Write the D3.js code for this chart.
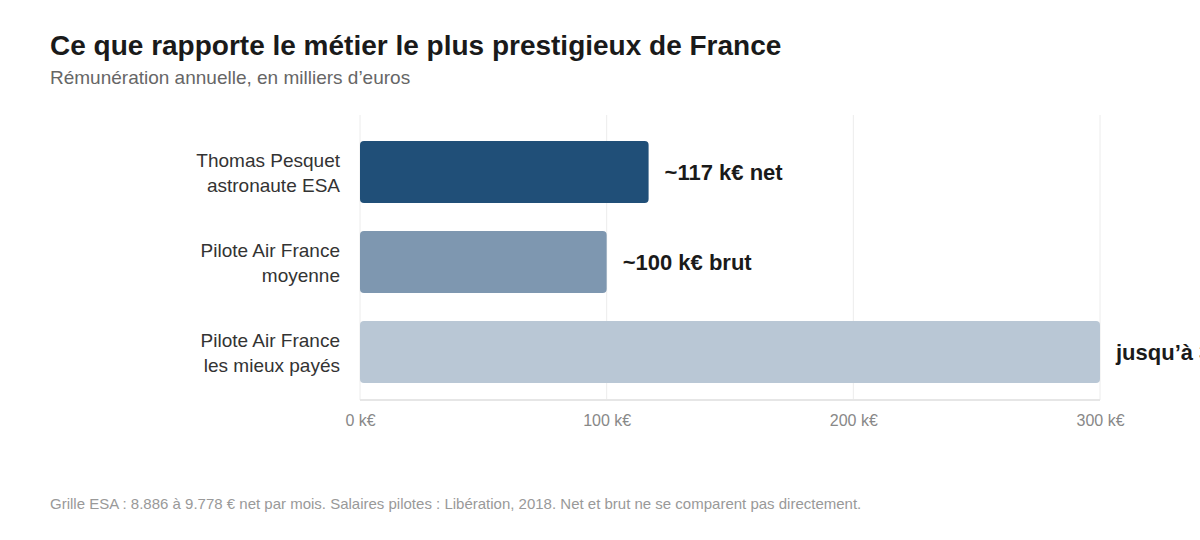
<!DOCTYPE html>
<html>
<head>
<meta charset="utf-8">
<script src="https://cdn.jsdelivr.net/npm/d3@7"></script>
<style>
  body { margin: 0; background: #fff; font-family: "Liberation Sans", Arial, sans-serif; }
</style>
</head>
<body>
<div id="chart"></div>
<script>
var categories = [
  ["Thomas Pesquet", "astronaute ESA"],
  ["Pilote Air France", "moyenne"],
  ["Pilote Air France", "les mieux payés"]
];
var values = [117, 100, 300];
var valueLabels = ["~117 k€ net", "~100 k€ brut", "jusqu’à 300 k€ brut"];
var barColors = ["#204f78", "#7e97b0", "#b9c7d5"];
var tickValues = [0, 100, 200, 300];

var width = 1200, height = 540;

var svg = d3.select("#chart").append("svg")
  .attr("width", width)
  .attr("height", height)
  .style("font-family", "'Liberation Sans', Arial, sans-serif");

var x = d3.scaleLinear().domain([0, 300]).range([360, 1100]);
var y = d3.scaleBand()
  .domain(d3.range(categories.length))
  .range([127, 397])
  .paddingInner(0.31)
  .paddingOuter(0.155);

// title
svg.append("text")
  .attr("x", 50).attr("y", 55)
  .attr("font-size", 28).attr("font-weight", "bold")
  .attr("fill", "#1a1a1a")
  .text("Ce que rapporte le métier le plus prestigieux de France");
svg.append("text")
  .attr("x", 50).attr("y", 84)
  .attr("font-size", 19).attr("fill", "#666")
  .text("Rémunération annuelle, en milliers d’euros");

// grid
svg.append("g").selectAll("line")
  .data(tickValues)
  .enter().append("line")
  .attr("x1", function(d) { return x(d); })
  .attr("x2", function(d) { return x(d); })
  .attr("y1", 115).attr("y2", 400)
  .attr("stroke", "#ececec").attr("stroke-width", 1);

svg.append("line")
  .attr("x1", x(0)).attr("x2", x(300))
  .attr("y1", 400).attr("y2", 400)
  .attr("stroke", "#e6e6e6").attr("stroke-width", 2);

// x axis labels
var xAxis = svg.append("g")
  .attr("transform", "translate(0,400)")
  .call(d3.axisBottom(x).tickValues(tickValues).tickSize(0).tickPadding(15)
    .tickFormat(function(d) { return d + " k€"; }));
xAxis.select(".domain").remove();
xAxis.selectAll("text")
  .attr("font-size", 16).attr("fill", "#888")
  .style("font-family", "'Liberation Sans', Arial, sans-serif");

// bars
svg.append("g").selectAll("rect")
  .data(values)
  .enter().append("rect")
  .attr("x", x(0))
  .attr("y", function(d, i) { return y(i); })
  .attr("width", function(d) { return x(d) - x(0); })
  .attr("height", y.bandwidth())
  .attr("rx", 4)
  .attr("fill", function(d, i) { return barColors[i]; });

// value labels (the last one runs past the edge, as in the original)
svg.append("g").selectAll("text")
  .data(values)
  .enter().append("text")
  .attr("x", function(d) { return x(d) + 16; })
  .attr("y", function(d, i) { return y(i) + y.bandwidth() / 2; })
  .attr("dy", "0.35em")
  .attr("font-size", 22).attr("font-weight", "bold")
  .attr("fill", "#1a1a1a")
  .text(function(d, i) { return valueLabels[i]; });

// category labels
var cat = svg.append("g").selectAll("text")
  .data(categories)
  .enter().append("text")
  .attr("x", 340)
  .attr("y", function(d, i) { return y(i) + y.bandwidth() / 2; })
  .attr("text-anchor", "end")
  .attr("font-size", 19)
  .attr("fill", "#333");
cat.selectAll("tspan")
  .data(function(d) { return d; })
  .enter().append("tspan")
  .attr("x", 340)
  .attr("dy", function(d, i) { return i === 0 ? "-0.25em" : "1.3em"; })
  .text(function(d) { return d; });

// footer
svg.append("text")
  .attr("x", 50).attr("y", 509)
  .attr("font-size", 15).attr("fill", "#999")
  .text("Grille ESA : 8.886 à 9.778 € net par mois. Salaires pilotes : Libération, 2018. Net et brut ne se comparent pas directement.");
</script>
</body>
</html>
